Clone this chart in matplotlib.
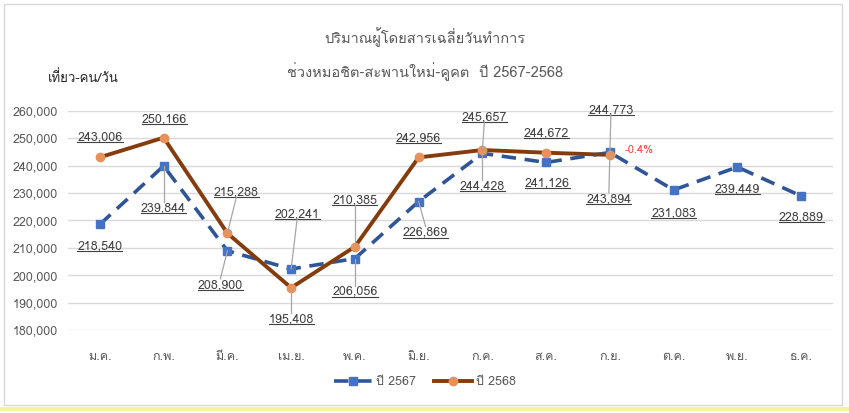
import matplotlib
matplotlib.use("Agg")
import matplotlib.pyplot as plt
from matplotlib import font_manager, ft2font
from matplotlib.lines import Line2D
from matplotlib.patches import Rectangle
from matplotlib.transforms import IdentityTransform

months = ["ม.ค.", "ก.พ.", "มี.ค.", "เม.ย.", "พ.ค.", "มิ.ย.",
          "ก.ค.", "ส.ค.", "ก.ย.", "ต.ค.", "พ.ย.", "ธ.ค."]
y2567 = [218540, 239844, 208900, 202241, 206056, 226869,
         244428, 241126, 244773, 231083, 239449, 228889]
y2568 = [243006, 250166, 215288, 195408, 210385, 242956,
         245657, 244672, 243894]
yticks = [180000, 190000, 200000, 210000, 220000, 230000, 240000, 250000, 260000]
change_note = "-0.4%"

# label offsets in pixels (dx, dy), y up
off2567 = [(0, -22), (0, -42), (-7, -34), (6, 55), (0, -33), (7, -31),
           (0, -33), (1, -21), (1, 42), (0, -23), (0, -22), (0, -21)]
off2568 = [(0, 20), (1, 19), (9, 41), (0, -31), (0, 47), (0, 19),
           (2, 33), (0, 20), (-1, -44)]


def find_thai_font():
    for f in font_manager.fontManager.ttflist:
        try:
            ft = ft2font.FT2Font(f.fname)
            if ft.get_char_index(ord("ก")):
                return f.name
        except Exception:
            pass
    return None


thai = find_thai_font()
fams = [thai, "DejaVu Sans"] if thai else ["DejaVu Sans"]
plt.rcParams["font.family"] = fams

W, H = 849, 413
fig = plt.figure(figsize=(W / 100, H / 100), dpi=100)
ax = fig.add_axes([68 / W, 1 - 330 / H, 765 / W, (330 - 110.7) / H])

x = list(range(len(months)))
ax.plot(x, y2567, color="#2F5597", lw=2.6, dashes=(4, 2.4), marker="s",
        markersize=6, markerfacecolor="#4472C4", markeredgecolor="#4472C4",
        label="ปี 2567", zorder=3)
ax.plot(x[:len(y2568)], y2568, color="#843C0C", lw=2.8, marker="o",
        markersize=6, markerfacecolor="#E8925A", markeredgecolor="#E8925A",
        label="ปี 2568", zorder=4)

ax.set_xlim(-0.5, len(months) - 0.5)
ax.set_ylim(180000, 260000)
ax.set_yticks(yticks)
ax.set_yticklabels([f"{v:,}" for v in yticks])
ax.set_xticks(x)
ax.set_xticklabels(months)
ax.tick_params(axis="both", length=0, labelsize=9, colors="#595959")
ax.tick_params(axis="x", pad=15)
ax.tick_params(axis="y", pad=7)
ax.grid(axis="y", color="#D9D9D9", lw=1)
ax.set_axisbelow(True)
for s in ax.spines.values():
    s.set_visible(False)

fig.text(425 / W, 1 - 37 / H, "ปริมาณผู้โดยสารเฉลี่ยวันทำการ", ha="center",
         va="center", fontsize=10.5, color="#595959")
fig.text(425 / W, 1 - 72 / H, "ช่วงหมอชิต-สะพานใหม่-คูคต  ปี 2567-2568",
         ha="center", va="center", fontsize=10.5, color="#595959")
fig.text(48 / W, 1 - 78 / H, "เที่ยว-คน/วัน", ha="left", va="center",
         fontsize=9.5, color="#262626")

labels = []
for xs, ys, offs in [(x, y2567, off2567), (x, y2568, off2568)]:
    for xi, yi, (dx, dy) in zip(xs, ys, offs):
        t = ax.annotate(f"{yi:,}", (xi, yi), xytext=(dx, dy),
                        textcoords="offset pixels", ha="center", va="center",
                        fontsize=9, color="#404040", zorder=6)
        labels.append((t, xi, yi, dy))

ax.annotate(change_note, (8, y2567[8]), xytext=(29, 2),
            textcoords="offset pixels", ha="center", va="center",
            fontsize=8, color="#FF3B3B")

leg = fig.legend(loc="center", bbox_to_anchor=(425 / W, 1 - 382 / H), ncol=2,
                 frameon=False, fontsize=9, handlelength=3, columnspacing=1.5,
                 handletextpad=0.3)
for t in leg.get_texts():
    t.set_color("#595959")

# frame and bottom strip
fig.add_artist(Rectangle((4 / W, 1 - 405 / H), 838 / W, 401 / H,
                         transform=fig.transFigure, fill=False,
                         edgecolor="#D9D9D9", lw=1))
fig.add_artist(Line2D([0, 1], [1 - 409 / H] * 2, transform=fig.transFigure,
                      color="#F7F0A8", lw=3))

fig.canvas.draw()
r = fig.canvas.get_renderer()
for t, xi, yi, dy in labels:
    bb = t.get_window_extent(r)
    fig.add_artist(Line2D([bb.x0, bb.x1], [bb.y0 + 1, bb.y0 + 1],
                          transform=IdentityTransform(), color="#404040", lw=0.8))
    if abs(dy) > 28:
        px, py = ax.transData.transform((xi, yi))
        ty = bb.y0 + 1 if dy > 0 else bb.y1
        tx = (bb.x0 + bb.x1) / 2
        fig.add_artist(Line2D([px, tx], [py, ty], transform=IdentityTransform(),
                              color="#A6A6A6", lw=0.9, zorder=2))

fig.savefig("out.png", dpi=100)
